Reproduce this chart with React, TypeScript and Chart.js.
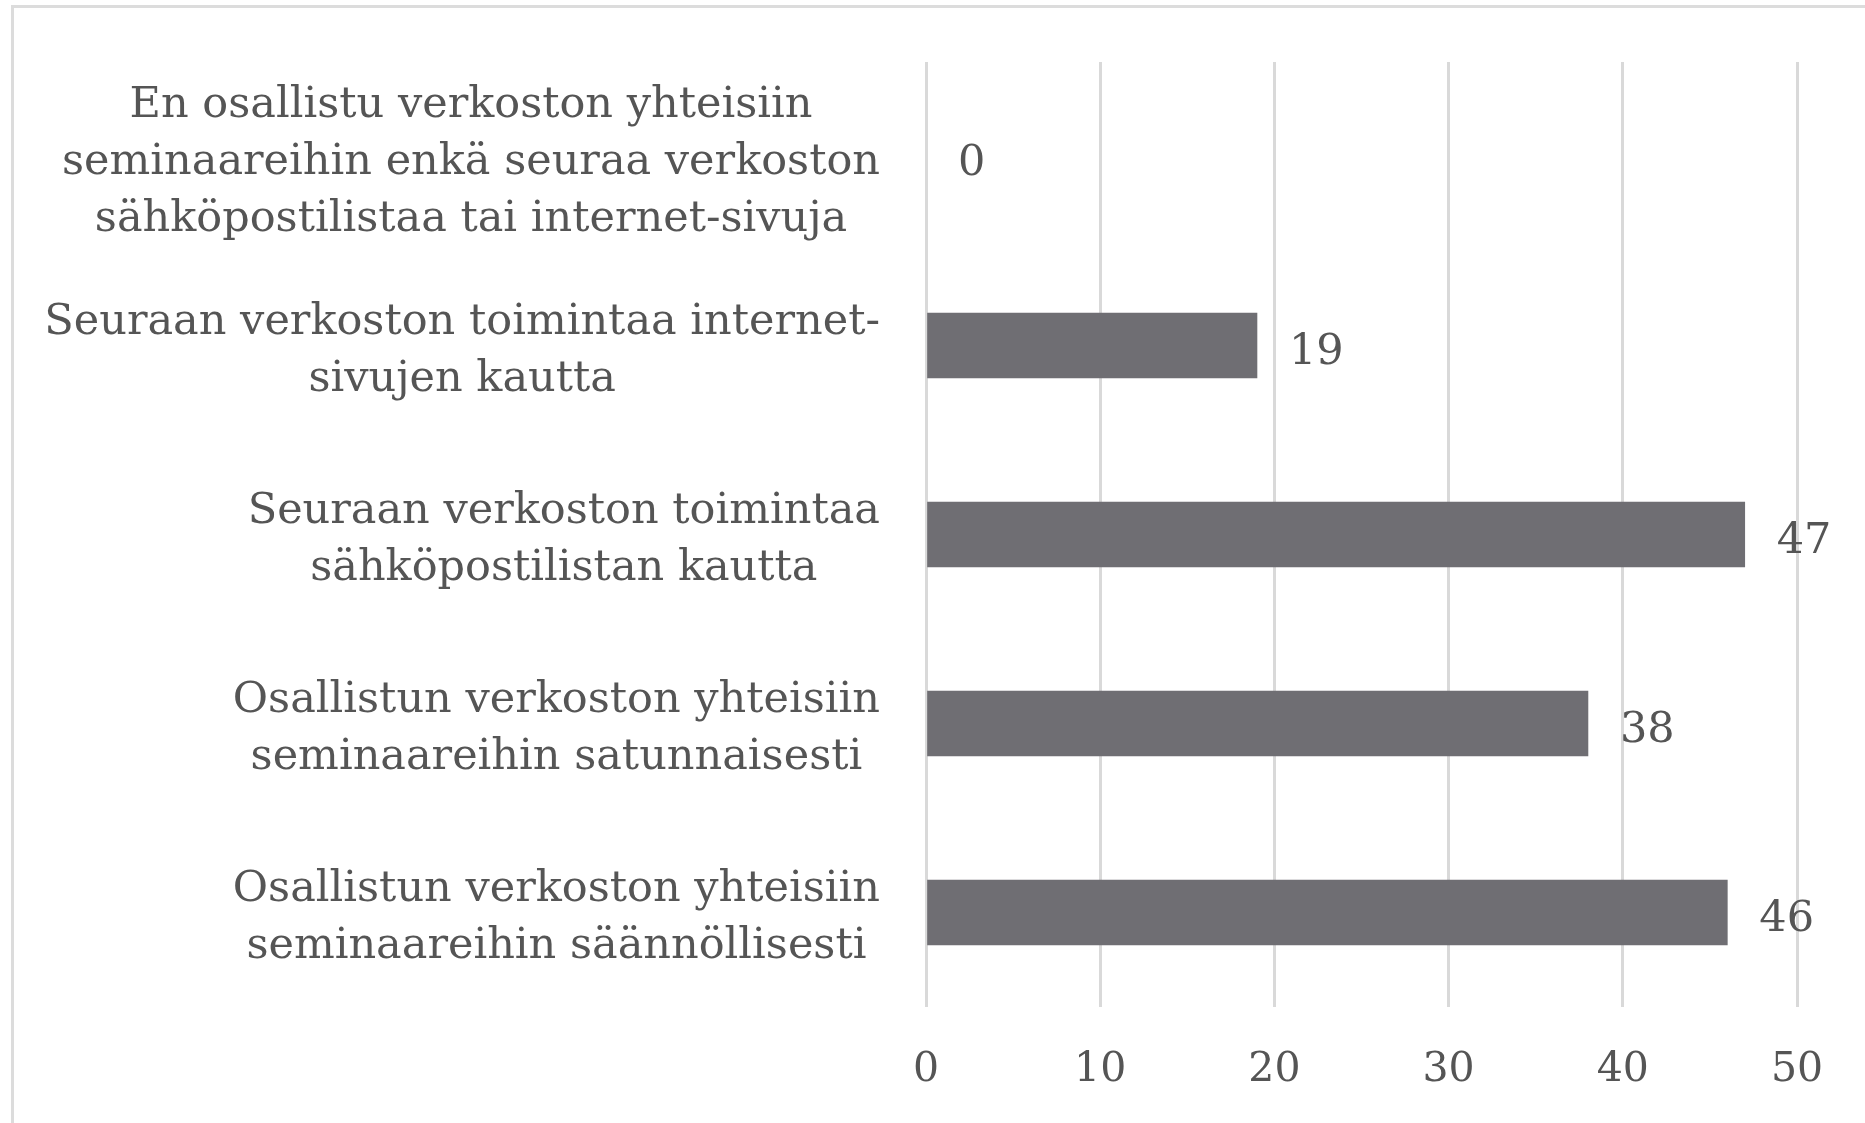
import React, { useEffect, useRef } from "react";
import { Chart, registerables } from "chart.js";

Chart.register(...registerables);

const categories: string[][] = [
  ["En osallistu verkoston yhteisiin", "seminaareihin enkä seuraa verkoston", "sähköpostilistaa tai internet-sivuja"],
  ["Seuraan verkoston toimintaa internet-", "sivujen kautta"],
  ["Seuraan verkoston toimintaa", "sähköpostilistan kautta"],
  ["Osallistun verkoston yhteisiin", "seminaareihin satunnaisesti"],
  ["Osallistun verkoston yhteisiin", "seminaareihin säännöllisesti"],
];
const values: number[] = [0, 19, 47, 38, 46];
const xTicks: number[] = [0, 10, 20, 30, 40, 50];

const FONT = "'DejaVu Serif', serif";
const TEXT = "#555555";

const labelPlugin = {
  id: "customLabels",
  afterDatasetsDraw(chart: any) {
    const ctx = chart.ctx;
    const y = chart.scales.y;
    const x = chart.scales.x;
    const area = chart.chartArea;
    ctx.save();
    ctx.font = `43px ${FONT}`;
    ctx.fillStyle = TEXT;
    ctx.textBaseline = "middle";
    const lh = 57;
    categories.forEach((lines, i) => {
      const cy = y.getPixelForValue(i) + 6;
      const widest = Math.max(...lines.map((l) => ctx.measureText(l).width));
      const right = area.left - 46;
      const cx = right - widest / 2;
      ctx.textAlign = "center";
      lines.forEach((l, j) => {
        ctx.fillText(l, cx, cy + (j - (lines.length - 1) / 2) * lh);
      });
    });
    const meta = chart.getDatasetMeta(0);
    meta.data.forEach((bar: any, i: number) => {
      ctx.textAlign = "left";
      ctx.fillText(String(values[i]), x.getPixelForValue(values[i]) + 32, bar.y + 7);
    });
    ctx.restore();
  },
};

export default function App() {
  const ref = useRef<HTMLCanvasElement>(null);
  useEffect(() => {
    if (!ref.current) return;
    const chart = new Chart(ref.current, {
      type: "bar",
      data: {
        labels: categories.map((c) => c.join(" ")),
        datasets: [
          {
            data: values,
            backgroundColor: values.map((v) => (v === 0 ? "rgba(0,0,0,0)" : "#6f6e73")),
            borderWidth: 0,
            barThickness: 65,
          },
        ],
      },
      options: {
        indexAxis: "y",
        animation: false,
        responsive: false,
        maintainAspectRatio: false,
        layout: { padding: { left: 926, right: 68, top: 62, bottom: 0 } },
        plugins: { legend: { display: false }, tooltip: { enabled: false } },
        scales: {
          y: { display: false },
          x: {
            min: 0,
            max: 50,
            afterBuildTicks: (s: any) => {
              s.ticks = xTicks.map((v) => ({ value: v }));
            },
            afterFit: (s: any) => {
              s.height = 116;
            },
            border: { display: false },
            grid: { color: "#d9d9d9", lineWidth: 3, drawTicks: false },
            ticks: {
              padding: 39,
              color: TEXT,
              font: { family: FONT, size: 41 },
            },
          },
        },
      },
      plugins: [labelPlugin],
    });
    return () => chart.destroy();
  }, []);
  return (
    <>
      <div
        style={{
          position: "fixed",
          left: 11,
          top: 5,
          width: 1880,
          height: 1140,
          border: "3px solid #dcdcdc",
          boxSizing: "border-box",
          background: "#fff",
        }}
      />
      <canvas
        ref={ref}
        width={1865}
        height={1123}
        style={{ position: "fixed", left: 0, top: 0, width: 1865, height: 1123 }}
      />
    </>
  );
}
